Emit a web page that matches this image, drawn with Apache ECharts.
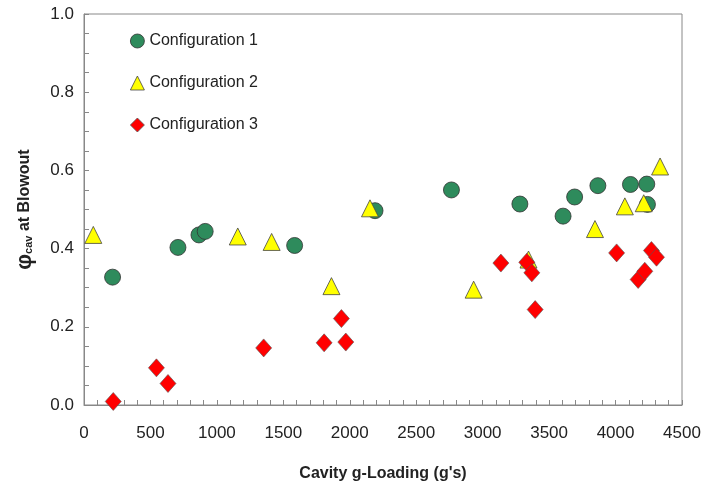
<!DOCTYPE html>
<html>
<head>
<meta charset="utf-8">
<script src="https://cdn.jsdelivr.net/npm/echarts@6/dist/echarts.min.js"></script>
<style>html,body{margin:0;padding:0;background:#fff}#c{width:704px;height:487px}</style>
</head>
<body>
<div id="c"></div>
<script>
const config1 = [[215,0.327],[707,0.403],[865,0.435],[912,0.444],[1585,0.408],[2190,0.497],[2765,0.550],[3280,0.514],[3605,0.483],[3692,0.532],[3867,0.561],[4112,0.564],[4235,0.565],[4240,0.513]];
const config2 = [[70,0.435],[1157,0.431],[1412,0.417],[1862,0.304],[2152,0.503],[2932,0.295],[3345,0.372],[3845,0.450],[4070,0.508],[4212,0.516],[4335,0.610]];
const config3 = [[220,0.009],[545,0.095],[632,0.055],[1352,0.146],[1807,0.159],[1937,0.221],[1970,0.161],[3137,0.363],[3332,0.365],[3370,0.338],[3395,0.244],[4008,0.389],[4170,0.321],[4220,0.342],[4270,0.395],[4308,0.378]];
const seriesNames = ['Configuration 1','Configuration 2','Configuration 3'];
const xTitle = "Cavity g-Loading (g's)";

const font = '"Liberation Sans", Arial, sans-serif';
const chart = echarts.init(document.getElementById('c'));
chart.setOption({
  animation: false,
  backgroundColor: '#fff',
  textStyle: {fontFamily: font},
  grid: {left: 84, right: 22, top: 14, bottom: 81.5, show: true, borderColor: '#888', borderWidth: 1},
  legend: {
    orient: 'vertical', left: 125, top: 28, itemWidth: 14, itemHeight: 14, itemGap: 26,
    itemStyle: {borderWidth: 0.8},
    textStyle: {fontSize: 16, color: '#222', fontFamily: font},
    data: seriesNames
  },
  xAxis: {
    type: 'value', min: 0, max: 4500, interval: 500,
    axisLine: {lineStyle: {color: '#888'}},
    axisTick: {inside: true, length: 5, lineStyle: {color: '#888'}},
    minorTick: {show: true, splitNumber: 5, length: 5, lineStyle: {color: '#888'}},
    splitLine: {show: false},
    axisLabel: {fontSize: 17, color: '#222', margin: 20, fontFamily: font, formatter: v => String(v)},
    name: xTitle, nameLocation: 'middle', nameGap: 61,
    nameTextStyle: {fontSize: 16, fontWeight: 'bold', color: '#222', fontFamily: font}
  },
  yAxis: {
    type: 'value', min: 0, max: 1.0, interval: 0.2,
    axisLine: {lineStyle: {color: '#888'}},
    axisTick: {inside: true, length: 5, lineStyle: {color: '#888'}},
    minorTick: {show: true, splitNumber: 4, length: 5, lineStyle: {color: '#888'}},
    splitLine: {show: false},
    axisLabel: {fontSize: 17, color: '#222', margin: 10, fontFamily: font, formatter: v => v.toFixed(1)},
    name: '{phi|φ}{sub|cav}{t| at Blowout}', nameLocation: 'middle', nameGap: 48, nameRotate: 90,
    nameTextStyle: {
      color: '#222', fontFamily: font,
      rich: {
        phi: {fontSize: 22, fontWeight: 'bold', color: '#222', fontFamily: font},
        sub: {fontSize: 11, fontWeight: 'bold', color: '#222', fontFamily: font, padding: [8, 0, 0, 0]},
        t: {fontSize: 16, fontWeight: 'bold', color: '#222', fontFamily: font}
      }
    }
  },
  series: [
    {name: seriesNames[0], type: 'scatter', symbol: 'circle', symbolSize: 16, data: config1,
     itemStyle: {color: '#2e8b5c', borderColor: '#333', borderWidth: 0.8, opacity: 1}},
    {name: seriesNames[1], type: 'scatter', symbol: 'triangle', symbolSize: 17, data: config2,
     itemStyle: {color: '#ffff00', borderColor: '#444', borderWidth: 0.8, opacity: 1}},
    {name: seriesNames[2], type: 'scatter', symbol: 'diamond', symbolSize: [16, 18], data: config3,
     itemStyle: {color: '#ff0000', borderColor: '#555', borderWidth: 0.6, opacity: 1}}
  ]
});
</script>
</body>
</html>
